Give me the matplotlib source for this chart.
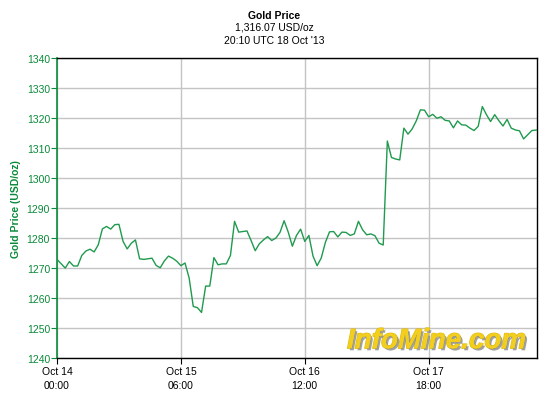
import matplotlib
matplotlib.use("Agg")
import matplotlib.pyplot as plt
import matplotlib.patheffects as pe

plt.rcParams['font.family'] = ['Liberation Sans', 'DejaVu Sans']

# hours since Oct 14 00:00 UTC
hours = [0, 2, 3, 4, 5, 6, 7, 8, 9, 10, 11, 12, 13, 14, 15, 16, 17, 18, 19, 20,
         21, 22, 23, 24, 25, 26, 27, 28, 29, 30, 31, 32, 33, 34, 35, 36, 37, 38, 39, 40,
         41, 42, 43, 44, 45, 46, 47, 48, 49, 50, 51, 52, 53, 54, 55, 56, 57, 58, 59, 60,
         61, 62, 63, 64, 65, 66, 67, 68, 69, 70, 71, 72, 73, 74, 75, 76, 77, 78, 79, 80,
         81, 82, 83, 84, 85, 86, 87, 88, 89, 90, 91, 92, 93, 94, 95, 96, 97, 98, 99, 100,
         101, 102, 103, 104, 105, 106, 107, 108, 109, 110, 111, 112, 113, 114, 115, 116.17]
prices = [1272.9, 1270.0, 1272.2, 1270.7, 1270.7, 1274.2, 1275.7, 1276.3, 1275.4, 1277.8,
          1283.1, 1283.9, 1283.0, 1284.5, 1284.6, 1278.9, 1276.4, 1278.3, 1279.4, 1273.1,
          1272.9, 1273.1, 1273.3, 1270.9, 1270.1, 1272.4, 1274.0, 1273.3, 1272.3, 1270.8,
          1271.7, 1266.7, 1257.2, 1256.8, 1255.2, 1264.0, 1264.0, 1273.5, 1271.1, 1271.4,
          1271.4, 1274.2, 1285.6, 1282.0, 1282.2, 1282.4, 1279.2, 1275.8, 1278.1, 1279.4,
          1280.5, 1279.2, 1280.0, 1281.9, 1285.8, 1282.0, 1277.3, 1280.9, 1283.0, 1278.9,
          1280.9, 1274.0, 1270.8, 1273.4, 1278.6, 1282.1, 1282.2, 1280.4, 1282.0, 1281.9,
          1280.9, 1281.4, 1285.6, 1282.8, 1281.1, 1281.4, 1280.8, 1278.3, 1277.7, 1312.4,
          1306.9, 1306.4, 1306.1, 1316.7, 1314.7, 1316.4, 1319.1, 1322.8, 1322.7, 1320.5,
          1321.3, 1320.0, 1320.5, 1319.3, 1319.1, 1316.8, 1319.1, 1317.8, 1317.7, 1316.7,
          1315.9, 1317.3, 1323.9, 1321.2, 1318.9, 1321.2, 1319.2, 1317.4, 1319.6, 1316.7,
          1316.1, 1315.8, 1313.1, 1314.5, 1315.9, 1316.07]

xtick_pos = [0, 30, 60, 90]
xtick_labels = ["Oct 14\n00:00", "Oct 15\n06:00", "Oct 16\n12:00", "Oct 17\n18:00"]
yticks = [1240, 1250, 1260, 1270, 1280, 1290, 1300, 1310, 1320, 1330, 1340]

GREEN = "#0a8a3a"
LINE = "#1f9a4e"

W, H = 549, 410
fig = plt.figure(figsize=(W / 100, H / 100), dpi=100)
ax = fig.add_axes([57 / W, 1 - 359 / H, (536.7 - 57) / W, (359 - 59.3) / H])

ax.plot(hours, prices, color=LINE, lw=1.0, zorder=3)
ax.set_xlim(0, 116.17)
ax.set_ylim(1240, 1340)
ax.set_yticks(yticks)
ax.set_xticks(xtick_pos)
ax.set_xticklabels(xtick_labels, fontsize=7.5, color="black", linespacing=1.55)
ax.tick_params(axis='y', colors=GREEN, labelsize=7.5, length=4, width=0.8, pad=1)
ax.tick_params(axis='x', colors="black", length=4, width=0.8, pad=1.5, labelcolor="black")
ax.grid(True, color="#c4c4c4", lw=1.0, zorder=0)
for s in ["top", "right", "bottom"]:
    ax.spines[s].set_color("black")
    ax.spines[s].set_linewidth(1.0)
ax.spines["left"].set_color(GREEN)
ax.spines["left"].set_linewidth(1.2)

ax.set_ylabel("Gold Price (USD/oz)", color=GREEN, fontsize=7.5, fontweight="bold", labelpad=4)

fig.text(274.5 / W, 1 - 16 / H, "Gold Price", ha="center", va="center",
         fontsize=7.5, fontweight="bold")
fig.text(274.5 / W, 1 - 28 / H, "1,316.07 USD/oz", ha="center", va="center", fontsize=7.5)
fig.text(274.5 / W, 1 - 41 / H, "20:10 UTC 18 Oct '13", ha="center", va="center", fontsize=7.5)

ax.text(0.978, 0.056, "InfoMine.com", transform=ax.transAxes, ha="right", va="center",
        fontsize=20, fontweight="heavy", style="italic", color="#f2cf1e",
        path_effects=[pe.Stroke(linewidth=1.0, foreground="#e0b810"),
                      pe.withSimplePatchShadow(offset=(1.5, -1.5), shadow_rgbFace="#8a8a8a", alpha=0.8),
                      pe.Normal()], zorder=4)

fig.savefig("out.png", dpi=100)
